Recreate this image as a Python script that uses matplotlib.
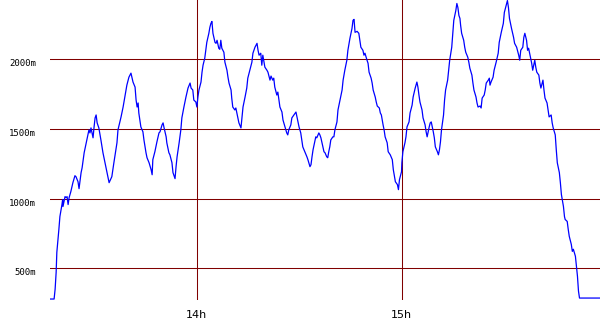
import matplotlib; matplotlib.use('Agg')
import matplotlib.pyplot as plt

# minutes after 13:00
minutes = [
  17.0, 18.2, 18.5, 18.8, 19.0, 19.6, 19.9, 20.5, 20.7, 20.8, 21.4, 21.7, 22.0, 22.3, 22.6,
  23.1, 23.7, 24.3, 24.6, 25.2, 25.5, 26.1, 26.4, 27.0, 27.8, 28.4, 28.7, 29.0, 29.6, 29.9,
  30.2, 30.5, 30.8, 31.3, 31.9, 32.5, 33.1, 33.7, 34.3, 35.1, 35.7, 36.6, 36.9, 37.8, 38.4,
  39.0, 39.5, 40.1, 40.7, 41.3, 41.9, 42.2, 42.5, 42.8, 43.0, 43.6, 44.2, 44.5, 45.1, 45.4,
  46.0, 46.6, 46.9, 47.1, 47.7, 48.3, 48.9, 49.2, 49.8, 50.1, 50.4, 51.0, 51.2, 51.8, 52.1,
  52.7, 53.0, 53.6, 53.9, 54.2, 54.8, 55.3, 55.6, 56.2, 56.8, 57.4, 58.0, 58.3, 58.8, 59.1,
  59.7, 60.0, 60.3, 60.6, 61.2, 61.5, 61.8, 62.3, 62.6, 62.9, 63.5, 63.8, 64.1, 64.4, 64.7,
  65.3, 65.6, 65.9, 66.4, 66.7, 67.0, 67.3, 67.9, 68.2, 68.8, 69.1, 69.4, 70.0, 70.2, 70.5,
  71.1, 71.4, 72.0, 72.3, 72.9, 73.2, 73.5, 74.1, 74.6, 74.9, 75.5, 76.1, 76.4, 77.0, 77.6,
  77.9, 78.2, 78.7, 79.0, 79.3, 79.9, 80.5, 80.8, 81.4, 81.7, 82.2, 82.5, 82.8, 83.4, 83.7,
  84.3, 84.9, 85.2, 85.8, 86.3, 86.6, 86.9, 87.5, 87.8, 88.4, 89.0, 89.3, 89.9, 90.4, 90.7,
  91.0, 91.6, 92.2, 92.5, 93.1, 93.4, 93.7, 94.0, 94.5, 94.8, 95.1, 95.7, 96.0, 96.3, 96.9,
  97.2, 97.5, 98.0, 98.3, 98.6, 98.9, 99.2, 99.8, 100.1, 100.4, 101.0, 101.3, 101.9, 102.5, 102.8,
  103.3, 103.9, 104.2, 104.8, 105.4, 105.7, 106.0, 106.3, 106.9, 107.4, 107.7, 108.0, 108.6, 108.9, 109.2,
  109.8, 110.1, 110.4, 111.0, 111.3, 111.6, 112.2, 112.5, 112.8, 113.4, 113.7, 114.0, 114.5, 114.8, 115.1,
  115.7, 116.0, 116.6, 117.2, 117.5, 118.1, 118.7, 119.0, 119.3, 119.9, 120.0, 120.3, 120.9, 121.2, 121.5,
  122.1, 122.4, 123.0, 123.3, 123.9, 124.4, 124.7, 125.0, 125.3, 125.9, 126.2, 126.8, 127.1, 127.4, 128.0,
  128.3, 128.6, 129.2, 129.5, 129.8, 130.4, 130.7, 131.0, 131.3, 131.6, 132.2, 132.5, 132.8, 133.4, 133.7,
  134.0, 134.6, 134.9, 135.2, 135.8, 136.1, 136.4, 136.7, 137.0, 137.2, 137.5, 138.1, 138.4, 138.7, 139.3,
  139.6, 139.9, 140.5, 140.8, 141.1, 141.7, 142.0, 142.3, 142.9, 143.2, 143.5, 144.1, 144.4, 144.7, 145.3,
  145.6, 145.8, 146.1, 146.7, 147.0, 147.6, 148.2, 148.5, 149.1, 149.7, 150.0, 150.6, 150.9, 151.2, 151.5,
  152.1, 152.7, 153.0, 153.6, 154.2, 154.5, 154.8, 155.4, 155.7, 156.0, 156.5, 156.8, 157.1, 157.7, 158.0,
  158.3, 158.9, 159.2, 159.5, 160.1, 160.4, 160.7, 161.3, 161.6, 161.9, 162.5, 162.8, 163.1, 163.7, 164.0,
  164.3, 164.9, 165.2, 165.5, 166.1, 166.4, 166.7, 167.3, 167.6, 167.8, 168.4, 168.7, 169.0, 169.6, 169.9,
  170.2, 170.8, 171.1, 171.4, 171.7, 172.0, 178.0,
]

# altitude in metres
altitude = [
  279, 279, 350, 471, 614, 779, 871, 957, 993, 943, 1014, 1007, 1014, 957, 1007,
  1050, 1114, 1164, 1157, 1121, 1071, 1186, 1221, 1329, 1421, 1493, 1471, 1507, 1436, 1514,
  1579, 1600, 1543, 1507, 1421, 1329, 1257, 1186, 1114, 1157, 1257, 1400, 1493, 1586, 1657,
  1743, 1814, 1871, 1900, 1836, 1800, 1707, 1657, 1686, 1614, 1514, 1479, 1421, 1329, 1293,
  1257, 1207, 1171, 1279, 1336, 1407, 1471, 1479, 1529, 1543, 1507, 1443, 1400, 1329, 1314,
  1257, 1186, 1143, 1229, 1300, 1400, 1493, 1579, 1657, 1729, 1793, 1829, 1793, 1779, 1707,
  1693, 1657, 1729, 1779, 1836, 1907, 1957, 2007, 2064, 2121, 2186, 2229, 2257, 2271, 2186,
  2121, 2114, 2136, 2079, 2071, 2136, 2079, 2050, 1979, 1921, 1871, 1829, 1779, 1721, 1657,
  1636, 1650, 1579, 1543, 1507, 1579, 1657, 1729, 1793, 1864, 1921, 1979, 2043, 2086, 2114,
  2064, 2029, 2043, 1957, 2029, 1943, 1921, 1907, 1850, 1879, 1850, 1864, 1800, 1743, 1764,
  1657, 1621, 1564, 1514, 1471, 1457, 1493, 1529, 1579, 1600, 1621, 1586, 1514, 1471, 1421,
  1371, 1336, 1300, 1279, 1229, 1243, 1300, 1350, 1407, 1443, 1436, 1471, 1457, 1436, 1371,
  1336, 1329, 1300, 1293, 1336, 1371, 1421, 1443, 1443, 1493, 1550, 1636, 1707, 1779, 1850,
  1921, 1993, 2064, 2150, 2221, 2279, 2286, 2193, 2200, 2186, 2136, 2086, 2064, 2029, 2043,
  1993, 1971, 1907, 1864, 1829, 1779, 1729, 1693, 1664, 1650, 1614, 1600, 1529, 1493, 1443,
  1400, 1336, 1314, 1279, 1207, 1121, 1100, 1064, 1136, 1193, 1257, 1336, 1400, 1443, 1514,
  1550, 1614, 1671, 1729, 1793, 1836, 1800, 1743, 1693, 1636, 1579, 1529, 1479, 1443, 1514,
  1543, 1550, 1479, 1436, 1371, 1336, 1314, 1350, 1407, 1493, 1600, 1707, 1779, 1850, 1921,
  1993, 2086, 2186, 2279, 2350, 2400, 2371, 2314, 2293, 2243, 2186, 2136, 2086, 2050, 2014,
  1979, 1936, 1886, 1829, 1779, 1729, 1686, 1657, 1664, 1650, 1721, 1743, 1779, 1829, 1850,
  1864, 1814, 1836, 1871, 1921, 1979, 2043, 2121, 2193, 2257, 2336, 2393, 2421, 2371, 2293,
  2221, 2157, 2114, 2086, 2029, 1993, 2064, 2086, 2157, 2186, 2136, 2064, 2079, 2007, 1971,
  1921, 1993, 1943, 1907, 1886, 1829, 1793, 1850, 1779, 1721, 1686, 1636, 1586, 1600, 1543,
  1507, 1457, 1350, 1257, 1186, 1114, 1029, 943, 871, 850, 836, 779, 729, 671, 621,
  636, 586, 514, 443, 336, 286, 286,
]

alt_ticks = [500, 1000, 1500, 2000]
alt_labels = ['500m', '1000m', '1500m', '2000m']
hour_ticks = [60, 120]
hour_labels = ['14h', '15h']

grid_color = '#800000'

fig = plt.figure(figsize=(6, 3.3), dpi=100)
ax = fig.add_axes([50 / 600, 30 / 330, 550 / 600, 300 / 330])

# dark red grid, one pixel wide
for a in alt_ticks:
  ax.axhline(a, color=grid_color, lw=0.75, zorder=1)
for m in hour_ticks:
  ax.axvline(m, color=grid_color, lw=0.75, zorder=1)

ax.plot(minutes, altitude, color='#0000ff', lw=0.9, zorder=3)

ax.set_xlim(17.0, 178.0)
ax.set_ylim(272, 2425)

for s in ax.spines.values():
  s.set_visible(False)
ax.tick_params(length=0)
ax.set_yticks(alt_ticks)
ax.set_yticklabels(alt_labels, family='DejaVu Sans Mono', fontsize=6.5, va='top')
ax.tick_params(axis='y', pad=10)
ax.set_xticks(hour_ticks)
ax.set_xticklabels(hour_labels, family='DejaVu Sans', fontsize=8)
ax.tick_params(axis='x', pad=7)

fig.savefig('out.png', dpi=100, facecolor='white')
